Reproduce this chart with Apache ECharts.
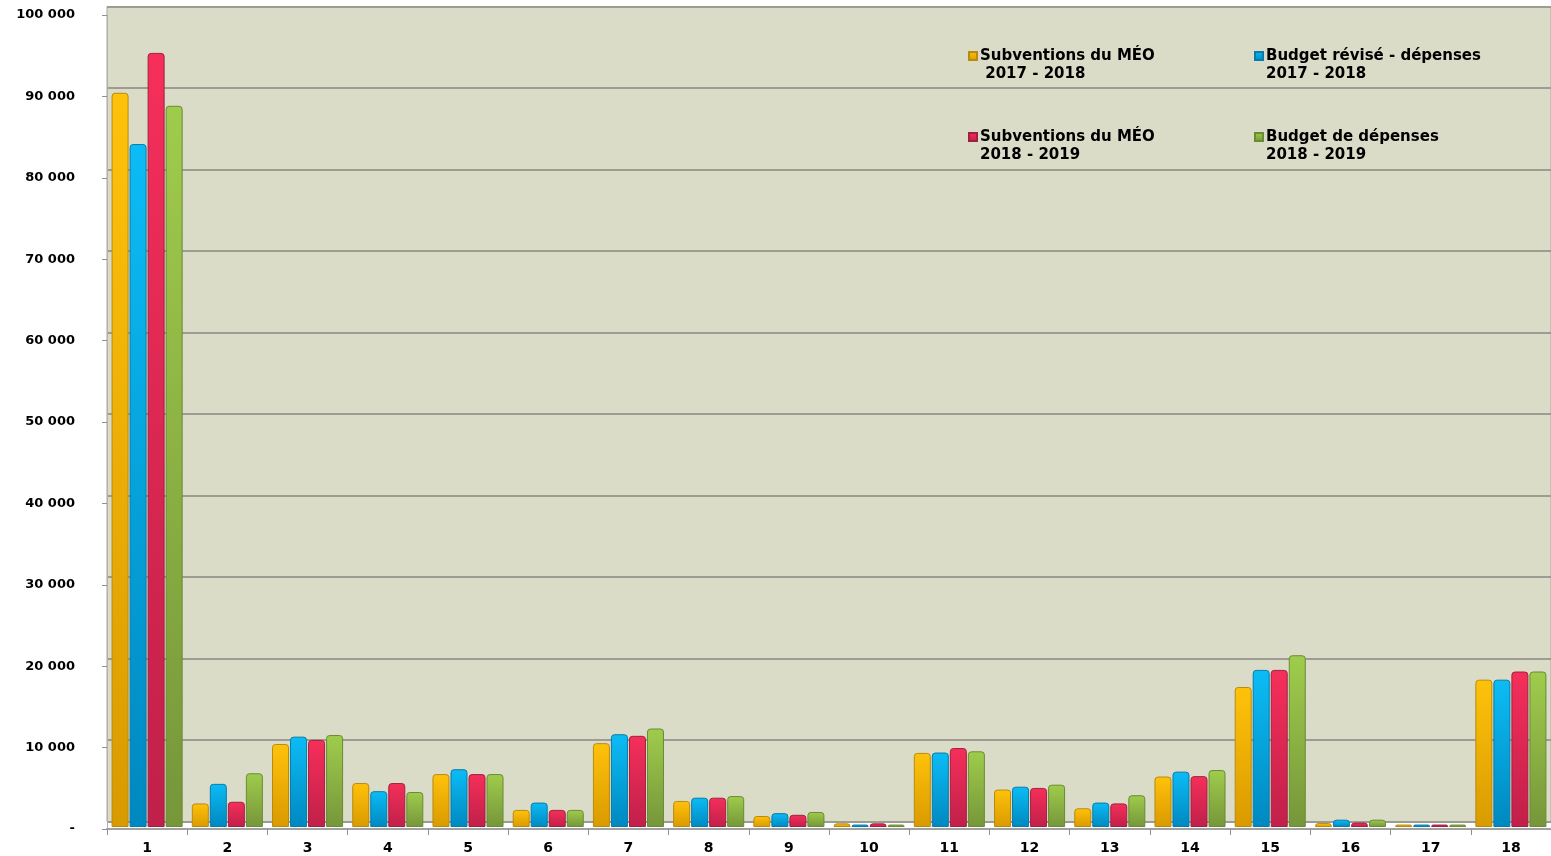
<!DOCTYPE html>
<html>
	<head>
		<meta charset="utf-8">
		<title></title>
		<script src="https://cdn.jsdelivr.net/npm/echarts@6/dist/echarts.min.js"></script>
		<style>
			html, body { margin: 0; padding: 0; background: #fff; }
			.chart { width: 1551px; height: 856px; }
		</style>
	</head>
	<body>
		<div class="chart"></div>
		<script>
			var categories = ['1','2','3','4','5','6','7','8','9','10','11','12','13','14','15','16','17','18'];
			var seriesNames = [
				'Subventions du MÉO\n 2017 - 2018',
				'Budget révisé - dépenses\n2017 - 2018',
				'Subventions du MÉO\n2018 - 2019',
				'Budget de dépenses\n2018 - 2019'
			];
			var subv1718 = [90200, 2900, 10200, 5400, 6500, 2100, 10300, 3200, 1350, 450, 9100, 4600, 2300, 6200, 17200, 500, 300, 18100];
			var budget1718 = [83900, 5300, 11100, 4400, 7100, 3000, 11400, 3600, 1700, 300, 9150, 4950, 3000, 6800, 19300, 900, 300, 18100];
			var subv1819 = [95100, 3100, 10700, 5400, 6500, 2100, 11200, 3600, 1500, 450, 9700, 4800, 2900, 6250, 19300, 550, 300, 19100];
			var budget1819 = [88600, 6600, 11300, 4300, 6500, 2100, 12100, 3800, 1850, 300, 9300, 5200, 3900, 7000, 21100, 900, 300, 19100];

			var colors = [
				['#ffc20a', '#d99a00', '#b88a10'],
				['#0cbcf5', '#0088c0', '#0a7aa8'],
				['#f52f5a', '#c0204a', '#a02040'],
				['#9fcc4c', '#76963a', '#6a8a34']
			];
			var values = [subv1718, budget1718, subv1819, budget1819];

			var chart = echarts.init(document.querySelector('.chart'));
			var font = 'DejaVu Sans';

			function makeSeries(i) {
				return {
					name: seriesNames[i],
					type: 'bar',
					xAxisIndex: 2,
					yAxisIndex: 2,
					data: values[i],
					barWidth: 17,
					barGap: '6%',
					itemStyle: {
						color: new echarts.graphic.LinearGradient(0, 0, 0, 1, [
							{ offset: 0, color: colors[i][0] },
							{ offset: 1, color: colors[i][1] }
						]),
						borderColor: colors[i][2],
						borderWidth: 1,
						borderRadius: [3, 3, 0, 0]
					}
				};
			}

			// empty first line so the icon lines up with the first text line
			function makeLegend(i, left, top) {
				return {
					data: [seriesNames[i]],
					left: left,
					top: top,
					icon: 'rect',
					itemWidth: 8,
					itemHeight: 8,
					itemGap: 2,
					padding: 0,
					selectedMode: false,
					formatter: function (name) { return ' \n' + name; },
					textStyle: {
						fontFamily: font,
						fontWeight: 'bold',
						fontSize: 15,
						color: '#000',
						lineHeight: 18,
						padding: [0, 0, 0, -2]
					}
				};
			}

			function valueAxis(gridIndex) {
				return {
					gridIndex: gridIndex,
					type: 'value',
					min: 0,
					max: 100000,
					interval: 10000
				};
			}

			var wallY = valueAxis(0);
			wallY.axisLabel = { show: false };
			wallY.axisLine = { show: false };
			wallY.axisTick = { show: false };
			wallY.splitLine = { lineStyle: { color: '#9c9c92', width: 2 } };

			var frontY = valueAxis(1);
			frontY.splitLine = { show: false };
			frontY.axisLine = { show: true, lineStyle: { color: '#b0b0b0' } };
			frontY.axisTick = { show: true, length: 5, lineStyle: { color: '#909090' } };
			frontY.axisLabel = {
				fontFamily: font,
				fontWeight: 'bold',
				fontSize: 13,
				color: '#000',
				margin: 32,
				formatter: function (v) {
					if (v === 0) return '-';
					return String(v).replace(/\B(?=(\d{3})+(?!\d))/g, ' ');
				}
			};

			var barY = valueAxis(2);
			barY.show = false;

			chart.setOption({
				animation: false,
				backgroundColor: '#ffffff',
				legend: [
					makeLegend(0, 968, 29),
					makeLegend(1, 1254, 29),
					makeLegend(2, 968, 110),
					makeLegend(3, 1254, 110)
				],
				grid: [
					// back wall with gridlines
					{ left: 107, right: -5, top: 6.5, bottom: 34.5, show: true, backgroundColor: '#dbdcc7', borderColor: '#a8a89c', borderWidth: 1 },
					// front axes
					{ left: 107, right: -5, top: 15, bottom: 27 },
					// bars
					{ left: 107, right: -5, top: 13, bottom: 29 }
				],
				xAxis: [
					{ gridIndex: 0, type: 'category', data: categories, show: false },
					{
						gridIndex: 1,
						type: 'category',
						data: categories,
						axisLine: { lineStyle: { color: '#a0a0a0', width: 2 } },
						axisTick: { show: true, length: 6, lineStyle: { color: '#909090' } },
						axisLabel: { fontFamily: font, fontWeight: 'bold', fontSize: 14, color: '#000', margin: 12 }
					},
					{ gridIndex: 2, type: 'category', data: categories, show: false }
				],
				yAxis: [wallY, frontY, barY],
				series: [makeSeries(0), makeSeries(1), makeSeries(2), makeSeries(3)]
			});
		</script>
	</body>
</html>
